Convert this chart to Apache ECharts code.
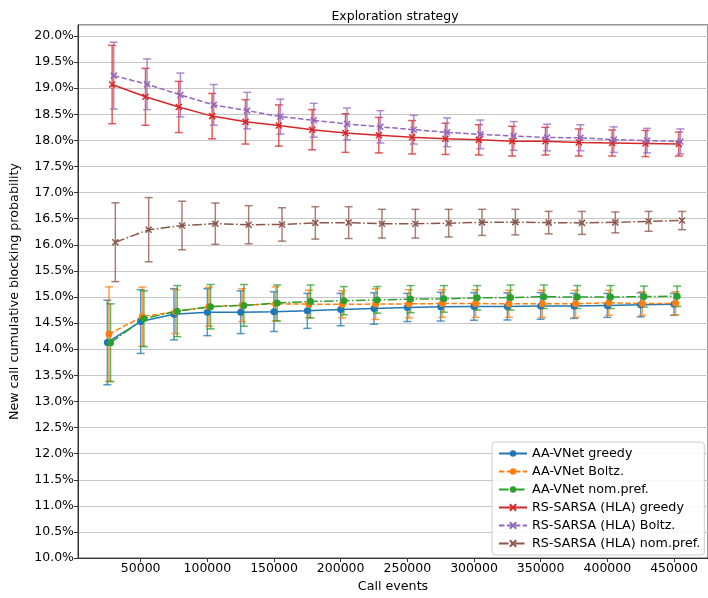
<!DOCTYPE html>
<html>
<head>
<meta charset="utf-8">
<title>Exploration strategy</title>
<script src="https://cdn.jsdelivr.net/npm/echarts@6/dist/echarts.min.js"></script>
<style>
  html, body { margin: 0; padding: 0; background: #fff; }
  #chart { width: 708px; height: 598px; }
</style>
</head>
<body>
<div id="chart"></div>
<script>
// call events (x), each series is shifted a little so error bars don't overlap
const callEvents = [25000, 50000, 75000, 100000, 125000, 150000, 175000, 200000, 225000,
  250000, 275000, 300000, 325000, 350000, 375000, 400000, 425000, 450000];
const xShift = 1200;
const xTicks = [50000, 100000, 150000, 200000, 250000, 300000, 350000, 400000, 450000];

const seriesNames = ['AA-VNet greedy', 'AA-VNet Boltz.', 'AA-VNet nom.pref.',
  'RS-SARSA (HLA) greedy', 'RS-SARSA (HLA) Boltz.', 'RS-SARSA (HLA) nom.pref.'];
const colors = ['#1f77b4', '#ff7f0e', '#2ca02c', '#d62728', '#9467bd', '#8c564b'];

// blocking probability in %, with half-width of error bar
const aaGreedy = [14.13, 14.53, 14.67, 14.71, 14.71, 14.72, 14.735, 14.76, 14.78, 14.80, 14.815, 14.82, 14.82, 14.83, 14.83, 14.84, 14.85, 14.86];
const aaGreedyErr = [0.81, 0.61, 0.49, 0.45, 0.41, 0.38, 0.335, 0.31, 0.30, 0.27, 0.275, 0.265, 0.26, 0.255, 0.24, 0.23, 0.23, 0.21];
const aaBoltz = [14.29, 14.625, 14.72, 14.815, 14.845, 14.87, 14.865, 14.86, 14.865, 14.87, 14.875, 14.875, 14.87, 14.87, 14.87, 14.89, 14.875, 14.88];
const aaBoltzErr = [0.905, 0.565, 0.42, 0.375, 0.315, 0.325, 0.265, 0.26, 0.295, 0.27, 0.265, 0.265, 0.26, 0.26, 0.26, 0.24, 0.225, 0.22];
const aaNomPref = [14.125, 14.585, 14.73, 14.815, 14.84, 14.885, 14.915, 14.93, 14.945, 14.96, 14.965, 14.985, 14.99, 15.005, 15.0, 15.0, 15.01, 15.015];
const aaNomPrefErr = [0.745, 0.535, 0.49, 0.425, 0.40, 0.345, 0.315, 0.27, 0.255, 0.26, 0.255, 0.235, 0.24, 0.225, 0.22, 0.22, 0.20, 0.195];
const rsGreedy = [19.07, 18.835, 18.64, 18.465, 18.355, 18.285, 18.205, 18.14, 18.10, 18.06, 18.03, 18.01, 17.985, 17.985, 17.96, 17.95, 17.94, 17.93];
const rsGreedyErr = [0.75, 0.545, 0.49, 0.435, 0.425, 0.395, 0.385, 0.37, 0.34, 0.32, 0.30, 0.29, 0.285, 0.265, 0.26, 0.25, 0.25, 0.23];
const rsBoltz = [19.24, 19.075, 18.87, 18.68, 18.57, 18.455, 18.385, 18.315, 18.26, 18.205, 18.155, 18.115, 18.085, 18.055, 18.05, 18.015, 17.995, 17.98];
const rsBoltzErr = [0.64, 0.485, 0.42, 0.39, 0.35, 0.335, 0.325, 0.305, 0.31, 0.275, 0.275, 0.275, 0.275, 0.255, 0.25, 0.245, 0.235, 0.24];
const rsNomPref = [16.05, 16.29, 16.37, 16.405, 16.385, 16.39, 16.42, 16.425, 16.405, 16.405, 16.415, 16.43, 16.435, 16.425, 16.42, 16.43, 16.45, 16.465];
const rsNomPrefErr = [0.755, 0.615, 0.465, 0.395, 0.365, 0.32, 0.31, 0.305, 0.275, 0.275, 0.265, 0.25, 0.245, 0.215, 0.22, 0.20, 0.19, 0.175];

const means = [aaGreedy, aaBoltz, aaNomPref, rsGreedy, rsBoltz, rsNomPref];
const errs = [aaGreedyErr, aaBoltzErr, aaNomPrefErr, rsGreedyErr, rsBoltzErr, rsNomPrefErr];

const dashed = [5.5, 2.4];
const dashDot = [9.6, 2.4, 1.5, 2.4];
const lineTypes = ['solid', dashed, dashDot, 'solid', dashed, dashDot];
const crossMark = 'path://M0,0L10,10M10,0L0,10';
const markers = ['circle', 'circle', 'circle', crossMark, crossMark, crossMark];

const series = [];
means.forEach((m, i) => {
  const pts = m.map((v, k) => [callEvents[k] + i * xShift, v, errs[i][k]]);
  series.push({
    type: 'custom',
    name: seriesNames[i] + ' err',
    data: pts,
    silent: true,
    z: 2,
    renderItem: (params, api) => {
      const x = api.value(0);
      const y = api.value(1);
      const e = api.value(2);
      const top = api.coord([x, y + e]);
      const bot = api.coord([x, y - e]);
      const cap = 4;
      const st = { stroke: colors[i], lineWidth: 1.5, opacity: 0.75 };
      return {
        type: 'group',
        children: [
          { type: 'line', shape: { x1: top[0], y1: top[1], x2: bot[0], y2: bot[1] }, style: st },
          { type: 'line', shape: { x1: top[0] - cap, y1: top[1], x2: top[0] + cap, y2: top[1] }, style: st },
          { type: 'line', shape: { x1: bot[0] - cap, y1: bot[1], x2: bot[0] + cap, y2: bot[1] }, style: st }
        ]
      };
    }
  });
  series.push({
    type: 'line',
    name: seriesNames[i],
    data: pts.map(p => [p[0], p[1]]),
    z: 3,
    symbol: markers[i],
    symbolSize: i < 3 ? 7 : 6,
    showAllSymbol: true,
    color: colors[i],
    lineStyle: { color: colors[i], width: 1.5, type: lineTypes[i] },
    itemStyle: i < 3
      ? { color: colors[i] }
      : { color: colors[i], borderColor: colors[i], borderWidth: 1.5 },
    emphasis: { disabled: true },
    animation: false
  });
});

const chart = echarts.init(document.getElementById('chart'));
chart.setOption({
  animation: false,
  textStyle: { fontFamily: 'DejaVu Sans' },
  title: {
    text: 'Exploration strategy',
    left: 390,
    textAlign: 'center',
    top: 5,
    textStyle: { fontSize: 12.5, fontWeight: 'normal', color: '#000', fontFamily: 'DejaVu Sans' }
  },
  legend: {
    data: seriesNames,
    orient: 'vertical',
    left: 492,
    top: 442,
    padding: [5, 4, 5, 6],
    itemWidth: 28,
    itemHeight: 8,
    itemGap: 5,
    borderColor: '#cccccc',
    borderWidth: 1,
    borderRadius: 3,
    backgroundColor: 'rgba(255,255,255,0.85)',
    textStyle: { fontSize: 12.7, color: '#000', fontFamily: 'DejaVu Sans' }
  },
  grid: { left: 73, top: 25, right: 0, bottom: 36, show: true, borderColor: '#333', borderWidth: 1, backgroundColor: 'transparent' },
  xAxis: {
    type: 'value',
    min: 3000,
    max: 475500,
    name: 'Call events',
    nameLocation: 'middle',
    nameGap: 21,
    nameTextStyle: { fontSize: 12.7, color: '#000' },
    axisLine: { lineStyle: { color: '#333' } },
    axisTick: { length: 4, lineStyle: { color: '#333' }, customValues: xTicks },
    axisLabel: { fontSize: 12.5, color: '#000', margin: 4, customValues: xTicks,
      formatter: v => String(v) },
    splitLine: { show: false }
  },
  yAxis: {
    type: 'value',
    min: 10,
    max: 20.21,
    interval: 0.5,
    name: 'New call cumulative blocking probability',
    nameLocation: 'middle',
    nameGap: 57,
    nameTextStyle: { fontSize: 12.7, color: '#000' },
    axisLine: { show: true, lineStyle: { color: '#333' } },
    axisTick: { show: true, length: 4, lineStyle: { color: '#333' } },
    axisLabel: { fontSize: 12.5, color: '#000', margin: 4, showMaxLabel: false,
      formatter: v => v.toFixed(1) + '%' },
    splitLine: { show: true, lineStyle: { color: '#c8c8c8', width: 1 } }
  },
  series: series
});
</script>
</body>
</html>
